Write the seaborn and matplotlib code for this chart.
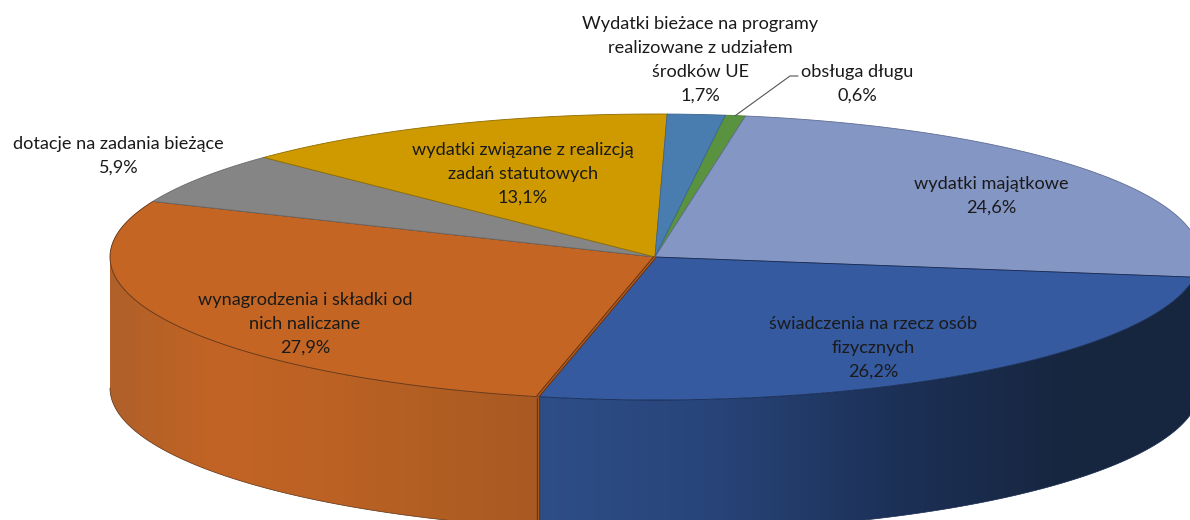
import numpy as np
import matplotlib
matplotlib.use('Agg')
import matplotlib.pyplot as plt
from matplotlib.colors import LinearSegmentedColormap
from matplotlib.patches import PathPatch
from matplotlib.path import Path
import seaborn as sns

# data, clockwise from the top of the pie
names = ["obsługa długu", "wydatki majątkowe", "świadczenia na rzecz osób\nfizycznych",
         "wynagrodzenia i składki od\nnich naliczane", "dotacje na zadania bieżące",
         "wydatki związane z realizcją\nzadań statutowych",
         "Wydatki bieżace na programy\nrealizowane z udziałem\nśrodków UE"]
values = [0.6, 24.6, 26.2, 27.9, 5.9, 13.1, 1.7]
top_colors = ["#5A9340", "#8496C4", "#355A9F", "#C46524", "#858585", "#CE9A00", "#4A7DAF"]
edge_colors = ["#4A7A34", "#5F6C94", "#14274F", "#5A2E10", "#6A6A6A", "#8F6C00", "#3A6490"]
# centre x and first baseline of each label
label_xy = [(857, 77), (991, 189), (873, 329), (305, 305), (118, 149), (523, 155), (700, 29.5)]

sns.set_theme(style="white")
plt.rcParams['font.family'] = ['Lato', 'DejaVu Sans']
palette = sns.color_palette(top_colors)

# pie geometry in pixels
cx, cy, rx, ry, depth = 655, 257, 545, 143, 131
start = np.radians(7.4)


def rim(t, drop=0):
    return np.column_stack([cx + rx * np.sin(t), cy - ry * np.cos(t) + drop])


fig, ax = plt.subplots(figsize=(11.9, 5.2), dpi=100)
fig.subplots_adjust(0, 0, 1, 1)
ax.axis("off")

edges = start + np.radians(np.cumsum([0] + values) * 3.6)

# side walls with a horizontal gradient
wall_maps = {
    2: LinearSegmentedColormap.from_list("blue_wall", [(0, "#2E4E88"), (0.25, "#28457A"), (0.55, "#1C3056"), (0.8, "#17263F"), (1, "#17263F")]),
    3: LinearSegmentedColormap.from_list("orange_wall", [(0, "#B0602A"), (0.25, "#C26424"), (0.5, "#BC6224"), (1, "#A85A22")]),
}
for i, cmap in wall_maps.items():
    if i == 2:
        t = np.linspace(np.radians(90), edges[i + 1], 120)
    else:
        t = np.linspace(edges[i], np.radians(270), 120)
    outer = np.vstack([rim(t), rim(t[::-1], depth)])
    x0, x1 = outer[:, 0].min(), outer[:, 0].max()
    y0, y1 = outer[:, 1].min(), outer[:, 1].max()
    grad = np.linspace(0, 1, 512).reshape(1, -1)
    im = ax.imshow(grad, cmap=cmap, extent=(x0, x1, y1, y0), aspect="auto", zorder=1,
                   interpolation="bilinear")
    im.set_clip_path(PathPatch(Path(outer), transform=ax.transData))
    ax.plot(*rim(t, depth).T, color=edge_colors[i], lw=0.5, zorder=2)

# top faces
for i, color in enumerate(palette):
    t = np.linspace(edges[i], edges[i + 1], 150)
    face = np.vstack([[cx, cy], rim(t)])
    ax.fill(face[:, 0], face[:, 1], facecolor=color, edgecolor=edge_colors[i], lw=0.6, zorder=3)

# double brown seam where the orange slice meets the blue one
seam = rim(np.array([edges[3]]))[0]
ax.plot([cx, seam[0]], [cy, seam[1]], color="#6B3612", lw=2.4, zorder=4, solid_capstyle="butt")
ax.plot([cx, seam[0]], [cy, seam[1]], color="#C46524", lw=0.7, zorder=5, solid_capstyle="butt")
ax.plot([seam[0], seam[0]], [seam[1], seam[1] + depth], color="#6B3612", lw=2.4, zorder=4, solid_capstyle="butt")
ax.plot([seam[0], seam[0]], [seam[1], seam[1] + depth], color="#A85A22", lw=0.7, zorder=5, solid_capstyle="butt")

# leader for the thin green slice
mid = rim(np.array([(edges[0] + edges[1]) / 2]))[0]
ax.plot([mid[0], 790, 798], [mid[1], 76, 76], color="#555555", lw=0.8, zorder=6)

# one text per line, the reference has a wider line pitch than linespacing gives evenly
for name, value, (x, y) in zip(names, values, label_xy):
    lines = f"{name}\n{value:.1f}%".replace(".", ",").split("\n")
    for j, line in enumerate(lines):
        ax.text(x, y + j * 23.8, line, ha="center", va="baseline",
                fontsize=13.1, color="#1A1A1A", zorder=7)

ax.set_xlim(0, 1190)
ax.set_ylim(520, 0)
fig.savefig("out.png", dpi=100)
